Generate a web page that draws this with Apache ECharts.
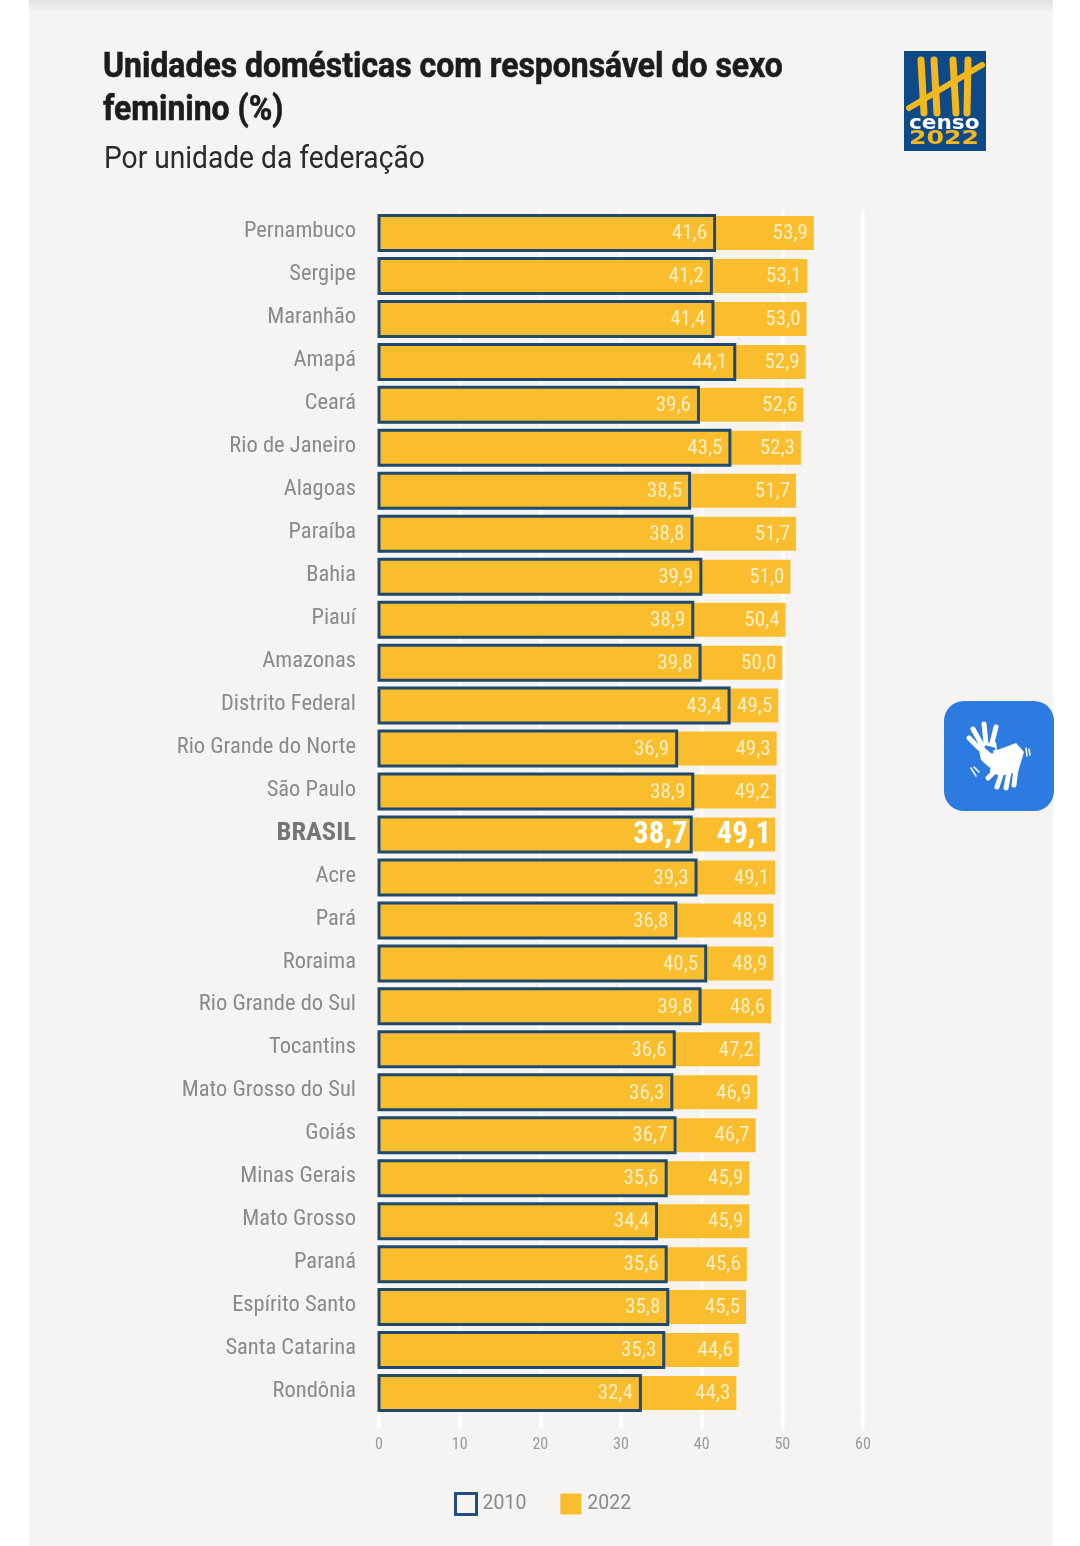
<!DOCTYPE html>
<html><head><meta charset="utf-8">
<style>html,body{margin:0;padding:0;background:#fff}#c{width:1080px;height:1546px}</style>
<script src="https://cdn.jsdelivr.net/npm/echarts@6/dist/echarts.min.js"></script>
</head><body><div id="c"></div>
<script>
const categories=['Pernambuco','Sergipe','Maranhão','Amapá','Ceará','Rio de Janeiro','Alagoas','Paraíba','Bahia','Piauí','Amazonas','Distrito Federal','Rio Grande do Norte','São Paulo','BRASIL','Acre','Pará','Roraima','Rio Grande do Sul','Tocantins','Mato Grosso do Sul','Goiás','Minas Gerais','Mato Grosso','Paraná','Espírito Santo','Santa Catarina','Rondônia'];
const values2010=[41.6,41.2,41.4,44.1,39.6,43.5,38.5,38.8,39.9,38.9,39.8,43.4,36.9,38.9,38.7,39.3,36.8,40.5,39.8,36.6,36.3,36.7,35.6,34.4,35.6,35.8,35.3,32.4];
const values2022=[53.9,53.1,53.0,52.9,52.6,52.3,51.7,51.7,51.0,50.4,50.0,49.5,49.3,49.2,49.1,49.1,48.9,48.9,48.6,47.2,46.9,46.7,45.9,45.9,45.6,45.5,44.6,44.3];
const highlight='BRASIL';
const titleLines=['Unidades domésticas com responsável do sexo','feminino (%)'];
const subtitle='Por unidade da federação';

const FONT='Roboto,sans-serif';
const CREAM='#fdf0c8',NAVY='#1f4a6e';
const fmt=v=>v.toFixed(1).replace('.',',');
const bigAt=i=>categories[i]===highlight;
const item=(v,i)=>{
  const big=bigAt(i);
  return {value:v,label:{show:true,position:'insideRight',distance:big?4:6,offset:[0,1],formatter:fmt(v),
    fontStyle:'condensed',fontFamily:FONT,fontSize:big?31:21,fontWeight:big?'bold':'normal',color:big?'#ffffff':CREAM}};
};
const render2010=(params,api)=>{
  const i=params.dataIndex,v=api.value(0);
  const p0=api.coord([0,api.value(1)]),p1=api.coord([v,api.value(1)]);
  const big=bigAt(i);
  const shape={x:p0[0],y:p0[1]-17.5,width:p1[0]-p0[0],height:35};
  return {type:'rect',shape,z2:5,
    style:{fill:'transparent',stroke:NAVY,lineWidth:3},
    textContent:{z2:6,style:{text:fmt(v),fill:big?'#ffffff':CREAM,
      font:'condensed '+(big?'bold 31px ':'21px ')+FONT}},
    textConfig:{position:'insideRight',distance:big?5:9,offset:[0,1]}};
};
const line=(pts,w,c)=>({type:'polyline',shape:{points:pts},style:{stroke:c,lineWidth:w,lineCap:'round',lineJoin:'round',fill:null},silent:true});
const txt=(x,y,t,font,fill,sx,st)=>({type:'text',x,y,scaleX:sx||1,style:{text:t,font,fill,textAlign:'left',textVerticalAlign:'middle',stroke:st||null,lineWidth:st?0.6:0},silent:true});
const Y='#f4b81f',W='#fff',B='#2d7be0';
const chart=echarts.init(document.getElementById('c'),null,{renderer:'canvas'});
chart.setOption({
  animation:false,
  backgroundColor:'#ffffff',
  grid:{left:379,top:211.5,width:484,height:1203,containLabel:false},
  legend:{left:449,top:1487,itemWidth:21,itemHeight:21,itemGap:34,icon:'rect',selectedMode:false,
    data:[{name:'2010',itemStyle:{color:'transparent',borderColor:'#1f4f80',borderWidth:3}},
          {name:'2022',itemStyle:{color:'#f9bd2e',borderWidth:0}}],
    textStyle:{color:'#8a8a8a',fontSize:19.5,fontFamily:FONT,padding:[0,0,0,1]}},
  xAxis:{type:'value',min:0,max:60,interval:10,
    axisLine:{show:false},
    axisTick:{show:true,length:14,lineStyle:{color:'#ffffff',width:3.5}},
    splitLine:{show:true,lineStyle:{color:'#ffffff',width:3.5}},
    axisLabel:{color:'#9a9a9a',fontSize:16,margin:22,fontFamily:FONT,fontStyle:'condensed'}},
  yAxis:{type:'category',inverse:true,data:categories,
    axisLine:{show:false},axisTick:{show:false},
    axisLabel:{margin:23,color:'#8a8a8a',fontSize:22.5,fontFamily:FONT,fontStyle:'condensed',
      verticalAlign:'middle',padding:[0,0,3,0],
      formatter:v=>v===highlight?'{b|'+v+'}':v,
      rich:{b:{fontSize:26.5,fontWeight:'bold',color:'#757575',fontFamily:FONT,fontStyle:'condensed'}}}},
  series:[
    {name:'2022',type:'bar',barWidth:34,z:2,
      itemStyle:{color:'#f9bd2e'},
      data:values2022.map(item)},
    {name:'2010',type:'custom',z:3,renderItem:render2010,
      itemStyle:{color:'transparent',borderColor:NAVY,borderWidth:3},
      encode:{x:0,y:1},
      data:values2010.map((v,i)=>[v,i])}
  ],
  graphic:{elements:[
    {type:'rect',z:-10,shape:{x:29,y:0,width:1024,height:1546},style:{fill:'#f5f4f3'},silent:true},
    {type:'rect',z:-9,shape:{x:29,y:0,width:1024,height:12},silent:true,
      style:{fill:new echarts.graphic.LinearGradient(0,0,0,1,[{offset:0,color:'#e2e2e2'},{offset:1,color:'#f5f4f3'}])}},
    txt(103,68,titleLines[0],'bold 35px Roboto,sans-serif','#1c1c1c',0.912,'#1c1c1c'),
    txt(103,111,titleLines[1],'bold 35px Roboto,sans-serif','#1c1c1c',0.912,'#1c1c1c'),
    txt(104,160,subtitle,'31px Roboto,sans-serif','#2a2a2a',0.908),
    // logo
    {type:'rect',shape:{x:904,y:51,width:82,height:100},style:{fill:'#0e4a87'},silent:true},
    line([[921,60],[924,113]],7,Y),line([[934,60],[937,113]],7,Y),line([[953,60],[956,113]],7,Y),line([[968,60],[967,113]],7,Y),
    line([[909,108],[982,65]],6,Y),
    txt(909,124,'censo','bold 20px "DejaVu Sans",sans-serif',W,1.08),
    txt(909,139,'2022','bold 20px "DejaVu Sans",sans-serif',Y,1.26),
    // sign-language button
    {type:'rect',shape:{x:944,y:701,width:110,height:110,r:20},style:{fill:B},silent:true},
    {type:'polygon',shape:{points:[[978,745],[996,742],[998,756],[990,768],[981,760]]},style:{fill:W},silent:true},
    line([[979,748],[969,738]],5,W),line([[982,745],[973,729]],5,W),line([[986,743],[984,724]],5,W),line([[992,743],[996,727]],5,W),
    {type:'polygon',shape:{points:[[992,752],[1016,743],[1024,752],[1018,772],[1000,776],[990,772]]},style:{fill:W},silent:true},
    line([[992,752],[986,747],[994,749]],3,B),
    line([[996,770],[988,778]],5,W),line([[1002,772],[997,787]],5,W),line([[1009,772],[1006,788]],5,W),line([[1016,768],[1014,785]],5,W),
    line([[1026,748],[1027,756]],1.5,W),line([[1029,749],[1030,755]],1.5,W),
    line([[971,768],[976,776]],1.5,W),line([[974,767],[979,772]],1.5,W)
  ]}
});
</script></body></html>
